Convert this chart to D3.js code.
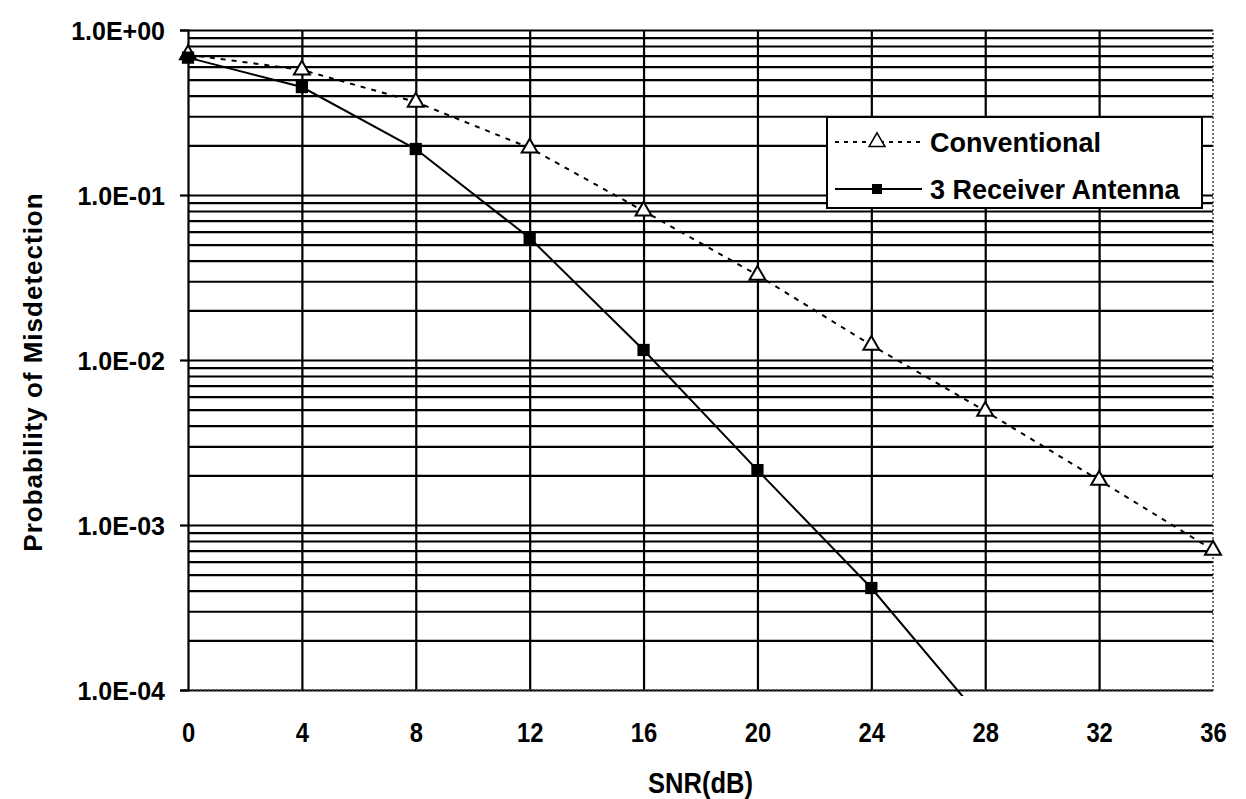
<!DOCTYPE html>
<html>
<head>
<meta charset="utf-8">
<script src="https://cdn.jsdelivr.net/npm/d3@7"></script>
<style>
  body { margin: 0; background: #fff; }
  text { font-family: "Liberation Sans", Arial, sans-serif; font-weight: bold; fill: #000; }
</style>
</head>
<body>
<svg id="chart" width="1246" height="799"></svg>
<script>
// Data
const snr = [0, 4, 8, 12, 16, 20, 24, 28, 32, 36];
const conventional = [0.71, 0.573, 0.366, 0.193, 0.080, 0.0327, 0.0123, 0.0049, 0.00187, 0.000705];
const snrRx = [0, 4, 8, 12, 16, 20, 24, 28];
const threeRx = [0.68, 0.451, 0.190, 0.0549, 0.0115, 0.00215, 0.000415, 0.000063];
const xTicks = [0, 4, 8, 12, 16, 20, 24, 28, 32, 36];
const yMajor = [1, 1e-1, 1e-2, 1e-3, 1e-4];
const seriesNames = ["Conventional", "3 Receiver Antenna"];

const svg = d3.select("#chart"),
  margin = {top: 30, left: 188, bottom: 109, right: 33},
  width = +svg.attr("width") - margin.left - margin.right,
  height = +svg.attr("height") - margin.top - margin.bottom;

const x = d3.scaleLinear().domain([0, 36]).range([margin.left, margin.left + width]);
const y = d3.scaleLog().domain([1e-4, 1]).range([margin.top + height, margin.top]);

const fmt = d => {
  const e = Math.round(Math.log10(d));
  return "1.0E" + (e >= 0 ? "+" : "-") + String(Math.abs(e)).padStart(2, "0");
};

// horizontal grid, every 1..9 of each decade
svg.append("g")
  .attr("transform", `translate(${margin.left},0)`)
  .call(d3.axisLeft(y).tickValues(y.ticks()).tickSize(-width).tickFormat(""))
  .call(g => g.select(".domain").remove())
  .call(g => g.selectAll("line").attr("stroke", "#000").attr("stroke-width", 2.2));

// vertical grid
svg.append("g")
  .attr("transform", `translate(0,${margin.top})`)
  .call(d3.axisBottom(x).tickValues(xTicks.slice(1, -1)).tickSize(height).tickFormat(""))
  .call(g => g.select(".domain").remove())
  .call(g => g.selectAll("line").attr("stroke", "#000").attr("stroke-width", 2.2));

// frame: dotted bottom and right
svg.append("path")
  .attr("d", `M${x(0)},${y(1e-4)}H${x(36)}V${y(1)}`)
  .attr("fill", "none").attr("stroke", "#444").attr("stroke-width", 1.5)
  .attr("stroke-dasharray", "2,2");

// y axis with labels
svg.append("g")
  .attr("transform", `translate(${margin.left},0)`)
  .call(d3.axisLeft(y).tickValues(yMajor).tickSize(8).tickPadding(15).tickFormat(fmt))
  .call(g => g.select(".domain").attr("stroke", "#000").attr("stroke-width", 2.2))
  .call(g => g.selectAll("line").attr("stroke", "#000").attr("stroke-width", 2.2))
  .call(g => g.selectAll("text").attr("font-size", 25).attr("font-family", null)
    .attr("dy", "0.36em"));

// x axis labels (condensed look)
svg.append("g")
  .attr("transform", `translate(0,${margin.top + height})`)
  .call(d3.axisBottom(x).tickValues(xTicks).tickSize(0).tickPadding(0).tickFormat(d3.format("d")))
  .call(g => g.select(".domain").remove())
  .call(g => g.selectAll("text").attr("font-size", 28)
    .attr("font-family", null).attr("dy", null).attr("y", 52)
    .attr("transform", "scale(0.85,1)"));

// axis titles
svg.append("text")
  .attr("transform", `translate(${x(18)},793) scale(0.88,1)`)
  .attr("text-anchor", "middle").attr("font-size", 29)
  .text("SNR(dB)");

svg.append("text")
  .attr("transform", `translate(42,${372}) rotate(-90)`)
  .attr("text-anchor", "middle").attr("font-size", 26)
  .attr("letter-spacing", 1)
  .text("Probability of Misdetection");

// clip for series
svg.append("clipPath").attr("id", "clip")
  .append("rect")
  .attr("x", margin.left - 10).attr("y", margin.top - 10)
  .attr("width", width + 20).attr("height", height + 16);

const plot = svg.append("g").attr("clip-path", "url(#clip)");
const line = d3.line().x(d => x(d[0])).y(d => y(d[1]));

const convData = snr.map((s, i) => [s, conventional[i]]);
const rxData = snrRx.map((s, i) => [s, threeRx[i]]);

plot.append("path").datum(convData)
  .attr("d", line).attr("fill", "none")
  .attr("stroke", "#000").attr("stroke-width", 2).attr("stroke-dasharray", "5,6");

plot.append("path").datum(rxData)
  .attr("d", line).attr("fill", "none")
  .attr("stroke", "#000").attr("stroke-width", 2);

const tri = d3.symbol().type(d3.symbolTriangle).size(110);
const sq = d3.symbol().type(d3.symbolSquare).size(150);

plot.selectAll(".tri").data(convData).enter().append("path")
  .attr("class", "tri")
  .attr("transform", d => `translate(${x(d[0])},${y(d[1])})`)
  .attr("d", tri).attr("fill", "#fff").attr("stroke", "#000").attr("stroke-width", 2);

plot.selectAll(".sq").data(rxData.filter(d => d[1] >= 1e-4)).enter().append("path")
  .attr("class", "sq")
  .attr("transform", d => `translate(${x(d[0])},${y(d[1])})`)
  .attr("d", sq).attr("fill", "#000");

// legend
const legend = svg.append("g").attr("transform", "translate(827,117)");
legend.append("rect")
  .attr("width", 375).attr("height", 91)
  .attr("fill", "#fff").attr("stroke", "#000").attr("stroke-width", 2);

const rows = legend.selectAll("g.row").data(seriesNames).enter().append("g")
  .attr("class", "row")
  .attr("transform", (d, i) => `translate(0,${25 + i * 47})`);

rows.append("line")
  .attr("x1", 8).attr("x2", 95)
  .attr("stroke", "#000").attr("stroke-width", 2)
  .attr("stroke-dasharray", (d, i) => i === 0 ? "4,5" : null);

rows.append("path")
  .attr("transform", "translate(50,0)")
  .attr("d", (d, i) => i === 0 ? tri() : d3.symbol().type(d3.symbolSquare).size(100)())
  .attr("fill", (d, i) => i === 0 ? "#fff" : "#000")
  .attr("stroke", (d, i) => i === 0 ? "#000" : null)
  .attr("stroke-width", 1.5);

rows.append("text")
  .attr("x", 103).attr("dy", "0.36em")
  .attr("font-size", 27)
  .text(d => d);
</script>
</body>
</html>
